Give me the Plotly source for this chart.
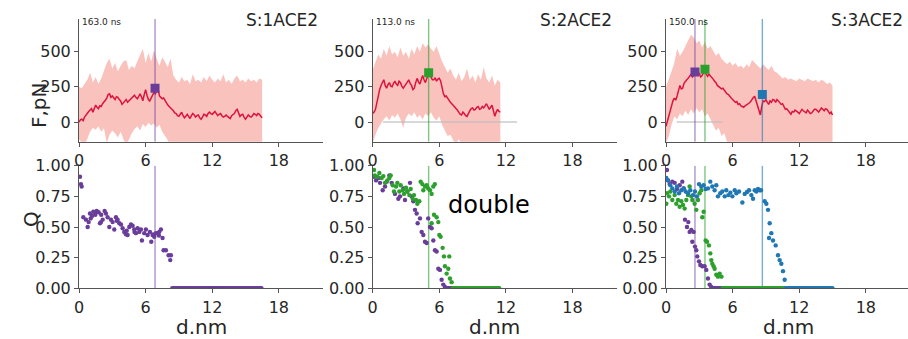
import numpy as np
import plotly.graph_objects as go

W, H = 908, 339
STEP = 0.25        # spacing (nm) of the spread-band samples
MEAN_STEP = 0.125  # spacing (nm) of the mean-force samples

# ---------------- force curves (pN), sampled from d = 0 ----------------
F1_MEAN = [0, 15, 20, 10, 35, 50, 60, 75, 85, 95,
           70, 100, 120, 105, 95, 115, 110, 130, 140, 155,
           170, 195, 200, 175, 185, 170, 160, 180, 175, 160,
           150, 125, 135, 150, 160, 140, 150, 165, 175, 185,
           190, 175, 165, 180, 200, 180, 150, 195, 230, 190,
           160, 150, 170, 195, 210, 200, 225, 235, 185, 175,
           165, 170, 150, 140, 120, 110, 100, 95, 80, 65,
           60, 45, 40, 55, 70, 45, 30, 40, 55, 40,
           25, 45, 60, 50, 35, 45, 50, 30, 20, 35,
           55, 50, 40, 60, 70, 60, 55, 65, 75, 60,
           45, 55, 60, 45, 35, 40, 50, 40, 30, 25,
           45, 55, 60, 80, 90, 65, 40, 50, 55, 35,
           20, 35, 50, 40, 35, 45, 60, 55, 45, 60,
           55, 40, 30]
F1_HI = [250, 240, 270, 300, 350, 280, 320, 270, 310, 360,
         420, 450, 380, 420, 360, 400, 430, 440, 370, 400,
         380, 430, 470, 520, 420, 490, 430, 510, 450, 400,
         460, 420, 390, 450, 330, 300, 280, 320, 290, 300,
         270, 340, 290, 300, 280, 320, 290, 330, 300, 280,
         310, 290, 340, 280, 300, 270, 310, 330, 290, 300,
         280, 310, 290, 300, 280, 310, 300]
F1_LO = [-120, -150, -170, -130, -70, -40, -55, -30, -70, -45,
         -150, -90, -60, -80, -110, -70, -120, -170, -130, -80,
         -50, -30, -60, -15, -35, -5, -25, -10, -40, -20,
         -70, -100, -130, -170, -180, -165, -175, -170, -180, -160,
         -170, -175, -165, -180, -170, -160, -175, -170, -180, -165,
         -170, -175, -160, -180, -170, -165, -175, -170, -180, -160,
         -170, -175, -165, -180, -170, -160, -175]

F2_MEAN = [60, 70, 90, 140, 180, 230, 260, 285, 300, 260,
           240, 265, 280, 255, 250, 275, 290, 270, 260, 290,
           280, 255, 240, 255, 270, 290, 300, 275, 260, 230,
           240, 280, 310, 285, 270, 300, 330, 300, 280, 310,
           340, 330, 320, 300, 300, 315, 290, 305, 310, 290,
           230, 200, 180, 185, 170, 150, 140, 130, 120, 110,
           100, 85, 70, 55, 50, 70, 60, 45, 40, 65,
           80, 95, 100, 85, 90, 105, 110, 90, 95, 110,
           100, 115, 130, 110, 90, 105, 120, 80, 40, 70,
           90, 75, 70]
F2_HI = [370, 420, 480, 450, 520, 470, 540, 480, 500, 460,
         530, 470, 500, 450, 520, 480, 540, 500, 560, 530,
         550, 520, 500, 540, 480, 430, 390, 350, 380, 330,
         300, 350, 290, 320, 380, 300, 330, 280, 340, 300,
         390, 310, 280, 330, 260, 300, 280]
F2_LO = [-150, -90, -40, -10, 20, 40, 10, 50, 30, 60,
         20, -40, 30, 60, 40, 70, 30, 50, 20, 60,
         40, 70, 30, 10, 40, -20, -60, -100, -90, -130,
         -160, -120, -160, -170, -150, -180, -170, -160, -175, -165,
         -170, -150, -180, -160, -170, -175, -165]

F3_MEAN = [-30, 10, 40, 90, 120, 150, 170, 155, 185, 230,
           260, 235, 240, 275, 290, 300, 310, 325, 340, 320,
           330, 350, 360, 340, 345, 320, 330, 350, 360, 340,
           325, 340, 330, 315, 305, 290, 280, 260, 250, 245,
           235, 240, 225, 210, 200, 195, 180, 170, 160, 150,
           140, 145, 125, 130, 115, 110, 105, 115, 120, 130,
           135, 145, 160, 175, 180, 150, 125, 90, 50, 110,
           150, 145, 160, 140, 125, 150, 140, 160, 155, 140,
           160, 150, 140, 125, 130, 110, 90, 95, 80, 65,
           55, 75, 70, 85, 80, 70, 60, 75, 90, 80,
           70, 65, 85, 70, 60, 65, 75, 90, 90, 80,
           70, 85, 100, 90, 80, 95, 90, 75, 60, 70,
           50]
F3_HI = [250, 300, 360, 420, 520, 470, 500, 540, 580, 620,
         600, 560, 580, 530, 570, 520, 540, 500, 470, 490,
         450, 430, 410, 430, 400, 420, 390, 400, 380, 410,
         390, 440, 420, 400, 380, 410, 390, 370, 400, 360,
         350, 330, 310, 320, 300, 310, 300, 290, 310, 300,
         290, 310, 300, 290, 300, 280, 300, 290, 270, 280, 260]
F3_LO = [-150, -100, -20, 40, 20, 60, 40, 80, 50, 90,
         60, 100, 70, 90, 40, 60, 10, -20, -60, -40,
         -100, -80, -140, -170, -180, -165, -175, -170, -180, -160,
         -170, -175, -165, -180, -170, -160, -175, -170, -180, -165,
         -170, -175, -160, -180, -170, -165, -175, -170, -180, -160,
         -170, -175, -165, -180, -170, -160, -175, -170, -180, -165, -170]

# light reference line at F = 0 (start, end in nm)
BASE2 = [0.93, 13.0]
BASE3 = [0.96, 5.1]

# ---------------- rupture events: position (nm) and force (pN) ----------------
EV1_D, EV1_F = [6.85], [240]
EV2_D, EV2_F = [5.04], [350]
EV3_D, EV3_F = [2.61, 3.51, 8.68], [355, 375, 195]

# ---------------- native contacts Q ----------------
Q1P_D = [0.09, 0.18, 0.24, 0.39, 0.63, 0.78, 0.87, 0.99, 1.05, 1.17, 1.29, 1.47, 1.59, 1.77,
         1.89, 1.98, 2.0, 2.13, 2.31, 2.43, 2.58, 2.73, 2.88, 3.03, 3.18, 3.33, 3.4, 3.48,
         3.63, 3.78, 3.93, 4.08, 4.23, 4.3, 4.38, 4.53, 4.68, 4.83, 4.98, 5.0, 5.13, 5.28,
         5.43, 5.58, 5.67, 5.88, 6.03, 6.18, 6.39, 6.51, 6.63, 6.7, 6.78, 6.93, 7.08, 7.2,
         7.23, 7.38, 7.53, 7.62, 7.83, 8.07, 8.22, 8.28]
Q1P_Q = [0.91, 0.85, 0.83, 0.58, 0.56, 0.50, 0.54, 0.61, 0.57, 0.59, 0.625, 0.60, 0.63, 0.62,
         0.53, 0.54, 0.60, 0.56, 0.63, 0.61, 0.58, 0.50, 0.56, 0.54, 0.48, 0.58, 0.55, 0.56,
         0.53, 0.52, 0.49, 0.46, 0.44, 0.47, 0.435, 0.50, 0.52, 0.51, 0.48, 0.46, 0.45, 0.49,
         0.46, 0.48, 0.39, 0.45, 0.48, 0.435, 0.46, 0.38, 0.435, 0.44, 0.42, 0.45, 0.45, 0.43,
         0.46, 0.48, 0.41, 0.31, 0.31, 0.27, 0.23, 0.27]
Q1P_ZERO = [8.4, 16.5]

Q2P_D = [0.12, 0.3, 0.51, 0.66, 0.9, 1.11, 1.26, 1.5, 1.71, 2.01, 2.31, 2.46, 2.76, 2.91,
         3.12, 3.36, 3.51, 3.66, 3.81, 3.96, 4.05, 4.26, 4.41, 4.56, 4.71, 4.86, 5.0, 5.16,
         5.31, 5.46, 5.61, 5.76, 5.91, 6.06, 6.21, 6.36, 6.51]
Q2P_Q = [0.91, 0.88, 0.90, 0.86, 0.80, 0.83, 0.87, 0.92, 0.86, 0.77, 0.73, 0.75, 0.815, 0.72,
         0.79, 0.86, 0.75, 0.71, 0.64, 0.61, 0.53, 0.57, 0.46, 0.435, 0.38, 0.37, 0.57, 0.50,
         0.49, 0.39, 0.31, 0.30, 0.16, 0.15, 0.07, 0.03, 0.01]
Q2P_ZERO = [6.6, 7.3]

Q2G_D = [0.12, 0.2, 0.42, 0.6, 0.81, 0.96, 1.11, 1.32, 1.5, 1.62, 1.8, 1.92, 2.1, 2.22,
         2.4, 2.52, 2.7, 2.82, 3.0, 3.12, 3.3, 3.42, 3.6, 3.72, 3.9, 4.02, 4.2, 4.32,
         4.47, 4.56, 4.71, 4.86, 5.0, 5.16, 5.31, 5.46, 5.6, 5.31, 5.52, 5.76, 5.91, 6.0,
         6.12, 6.3, 6.42, 6.51, 6.66, 6.81, 6.9, 6.96, 7.11]
Q2G_Q = [0.965, 0.92, 0.91, 0.94, 0.90, 0.915, 0.86, 0.88, 0.90, 0.92, 0.84, 0.79, 0.83, 0.86,
         0.79, 0.84, 0.80, 0.77, 0.82, 0.79, 0.76, 0.81, 0.73, 0.76, 0.72, 0.69, 0.71, 0.87,
         0.85, 0.80, 0.83, 0.84, 0.815, 0.80, 0.77, 0.83, 0.85, 0.53, 0.60, 0.58, 0.54, 0.435,
         0.42, 0.33, 0.26, 0.18, 0.12, 0.16, 0.26, 0.08, 0.05]
Q2G_ZERO = [7.2, 11.5]

Q3P_D = [0.09, 0.18, 0.33, 0.57, 0.78, 0.99, 1.23, 1.47, 1.59, 1.71, 1.89, 2.01, 2.13, 2.28,
         2.37, 2.49, 2.61, 2.73, 2.82, 2.97, 3.09, 3.27, 3.48, 3.63, 3.78, 3.93, 4.08]
Q3P_Q = [0.965, 0.88, 0.85, 0.87, 0.86, 0.81, 0.84, 0.87, 0.815, 0.56, 0.50, 0.54, 0.46, 0.475,
         0.38, 0.46, 0.34, 0.31, 0.26, 0.22, 0.19, 0.18, 0.18, 0.15, 0.08, 0.03, 0.01]
Q3P_ZERO = [4.2, 5.2]

Q3G_D = [0.03, 0.09, 0.27, 0.39, 0.57, 0.78, 0.93, 1.08, 1.23, 1.38, 1.53, 1.68, 1.83, 1.98,
         2.13, 2.28, 2.37, 2.58, 2.73, 2.88, 3.03, 3.18, 3.27, 3.39, 3.57, 3.69, 3.87, 3.99,
         4.08, 4.17, 4.29, 4.38, 4.53, 4.68, 4.83, 5.0]
Q3G_Q = [0.69, 0.775, 0.75, 0.79, 0.72, 0.76, 0.69, 0.72, 0.665, 0.71, 0.68, 0.65, 0.72, 0.76,
         0.83, 0.75, 0.72, 0.69, 0.64, 0.72, 0.775, 0.80, 0.58, 0.625, 0.39, 0.38, 0.35, 0.285,
         0.23, 0.20, 0.18, 0.16, 0.11, 0.095, 0.12, 0.095]
Q3G_ZERO = [5.1, 10.8]

Q3B_D = [0.03, 0.18, 0.39, 0.57, 0.78, 0.99, 1.17, 1.38, 1.59, 1.77, 1.98, 2.19, 2.43, 2.61,
         2.79, 2.97, 3.18, 3.39, 3.57, 3.78, 3.99, 4.17, 4.38, 4.53, 4.68, 4.89, 5.07, 5.29,
         5.43, 5.62, 5.8, 5.98, 6.19, 6.34, 6.58, 6.88, 7.09, 7.3, 7.48, 7.69, 7.84, 7.99,
         8.14, 8.29, 8.44, 8.56, 8.89, 9.04, 9.19, 9.34, 9.28, 9.49, 9.64, 9.88, 10.09, 10.24,
         10.39, 10.54, 10.69]
Q3B_Q = [0.90, 0.88, 0.84, 0.815, 0.79, 0.83, 0.775, 0.80, 0.815, 0.79, 0.775, 0.80, 0.76, 0.79,
         0.75, 0.85, 0.83, 0.84, 0.81, 0.815, 0.87, 0.83, 0.80, 0.84, 0.75, 0.775, 0.79, 0.75,
         0.80, 0.76, 0.78, 0.75, 0.80, 0.775, 0.79, 0.70, 0.77, 0.785, 0.80, 0.76, 0.73, 0.80,
         0.79, 0.81, 0.80, 0.80, 0.71, 0.69, 0.64, 0.53, 0.41, 0.45, 0.39, 0.35, 0.27, 0.23,
         0.20, 0.14, 0.07]
Q3B_ZERO = [10.8, 15.0]

TITLES = ["S:1ACE2", "S:2ACE2", "S:3ACE2"]
TIMES = ["163.0 ns", "113.0 ns", "150.0 ns"]
X_TICKS = [0, 6, 12, 18]
F_TICKS = [0, 250, 500]
Q_TICKS = [0.0, 0.25, 0.5, 0.75, 1.0]

# ---------------- styling ----------------
PURPLE, GREEN, BLUE = "#6a3d9a", "#2ca02c", "#1f77b4"
VLINE = {PURPLE: "rgba(106,61,154,0.55)", GREEN: "rgba(44,160,44,0.6)", BLUE: "rgba(31,119,180,0.6)"}
BAND = "rgba(246,150,142,0.58)"
MEAN = "#dc143c"
AXC = "#555555"
TXT = "#262626"
FONT = "DejaVu Sans"

PX_PER_NM = 11.1
PANEL_LEFT = [79, 372.7, 666]
PANEL_W = 244
TOP_PX = (19, 141.7)      # top/bottom of force panels (px from top)
BOT_PX = (165.7, 288.3)   # top/bottom of Q panels
F_RANGE = [-140, 732]
Q_RANGE = [0, 1]

fig = go.Figure()


def ax(n):
    return ("x" if n == 1 else f"x{n}"), ("y" if n == 1 else f"y{n}")


def grid(n, step):
    return [round(i * step, 4) for i in range(n)]


force = [(F1_MEAN, F1_HI, F1_LO, None), (F2_MEAN, F2_HI, F2_LO, BASE2), (F3_MEAN, F3_HI, F3_LO, BASE3)]
events = [(EV1_D, EV1_F, [PURPLE]), (EV2_D, EV2_F, [GREEN]), (EV3_D, EV3_F, [PURPLE, GREEN, BLUE])]
contacts = [
    [(Q1P_D, Q1P_Q, Q1P_ZERO, PURPLE)],
    [(Q2P_D, Q2P_Q, Q2P_ZERO, PURPLE), (Q2G_D, Q2G_Q, Q2G_ZERO, GREEN)],
    [(Q3P_D, Q3P_Q, Q3P_ZERO, PURPLE), (Q3G_D, Q3G_Q, Q3G_ZERO, GREEN), (Q3B_D, Q3B_Q, Q3B_ZERO, BLUE)],
]

for i in range(3):
    xt, yt = ax(i + 1)
    xb, yb = ax(i + 4)
    mean, hi, lo, base = force[i]
    db = grid(len(hi), STEP)
    dm = grid(len(mean), MEAN_STEP)
    # spread band
    fig.add_trace(go.Scatter(x=db + db[::-1], y=hi + lo[::-1], fill="toself", fillcolor=BAND,
                             line=dict(width=0), mode="lines", hoverinfo="skip",
                             xaxis=xt, yaxis=yt, showlegend=False))
    if base is not None:
        fig.add_trace(go.Scatter(x=base, y=[0, 0], mode="lines",
                                 line=dict(color="rgba(190,190,190,0.8)", width=1.6),
                                 xaxis=xt, yaxis=yt, showlegend=False))
    fig.add_trace(go.Scatter(x=dm, y=mean, mode="lines", line=dict(color=MEAN, width=1.5),
                             xaxis=xt, yaxis=yt, showlegend=False))
    # rupture markers with vertical guides
    ed, ef, cols = events[i]
    for dd, ff, c in zip(ed, ef, cols):
        fig.add_trace(go.Scatter(x=[dd, dd], y=F_RANGE, mode="lines", line=dict(color=VLINE[c], width=1.4),
                                 xaxis=xt, yaxis=yt, showlegend=False))
        fig.add_trace(go.Scatter(x=[dd, dd], y=Q_RANGE, mode="lines", line=dict(color=VLINE[c], width=1.4),
                                 xaxis=xb, yaxis=yb, showlegend=False))
    for dd, ff, c in zip(ed, ef, cols):
        fig.add_trace(go.Scatter(x=[dd], y=[ff], mode="markers",
                                 marker=dict(symbol="square", size=9, color=c),
                                 xaxis=xt, yaxis=yt, showlegend=False))
    # contact fractions
    for qd, qq, zero, c in contacts[i]:
        zd = list(np.round(np.arange(zero[0], zero[1] + 1e-9, 0.12), 3))
        fig.add_trace(go.Scatter(x=qd + zd, y=qq + [0.0] * len(zd), mode="markers",
                                 marker=dict(size=4.4, color=c, line=dict(width=0)),
                                 xaxis=xb, yaxis=yb, showlegend=False))

layout = dict(width=W, height=H, margin=dict(l=0, r=0, t=0, b=0, autoexpand=False),
              paper_bgcolor="white", plot_bgcolor="white",
              font=dict(family=FONT, color=TXT), showlegend=False)

axis_common = dict(showline=True, linecolor=AXC, linewidth=1, ticks="outside", ticklen=4,
                   tickcolor=AXC, tickwidth=1, showgrid=False, zeroline=False, automargin=False,
                   tickfont=dict(size=16, color=TXT, family=FONT))

annotations = []
for i in range(3):
    x0 = PANEL_LEFT[i]
    x1 = min(x0 + PANEL_W, W)
    dom = [x0 / W, x1 / W]
    xr = [0, (x1 - x0) / PX_PER_NM]
    for r in range(2):
        n = r * 3 + i + 1
        key = "" if n == 1 else str(n)
        top, bot = TOP_PX if r == 0 else BOT_PX
        layout["xaxis" + key] = dict(axis_common, domain=dom, range=xr, tickvals=X_TICKS,
                                     anchor="y" + key)
        ydict = dict(axis_common, domain=[1 - bot / H, 1 - top / H], anchor="x" + key)
        if r == 0:
            ydict.update(range=F_RANGE, tickvals=F_TICKS)
        else:
            ydict.update(range=Q_RANGE, tickvals=Q_TICKS, tickformat=".2f")
        layout["yaxis" + key] = ydict
    annotations.append(dict(text=TITLES[i], x=(x1 - 3) / W, y=1 - 20 / H, xref="paper", yref="paper",
                            xanchor="right", yanchor="middle", showarrow=False,
                            font=dict(size=17, color=TXT)))
    annotations.append(dict(text=TIMES[i], x=(x0 + 1) / W, y=1 - 22 / H, xref="paper", yref="paper",
                            xanchor="left", yanchor="middle", showarrow=False,
                            font=dict(size=9, color=TXT)))
    annotations.append(dict(text="d.nm", x=(x0 + 122) / W, y=1 - 327 / H, xref="paper", yref="paper",
                            xanchor="center", yanchor="middle", showarrow=False,
                            font=dict(size=20, color=TXT)))

annotations.append(dict(text="F,pN", x=25 / W, y=1 - 80 / H, xref="paper", yref="paper",
                        textangle=-90, showarrow=False, font=dict(size=20, color=TXT)))
annotations.append(dict(text="Q", x=17 / W, y=1 - 229 / H, xref="paper", yref="paper",
                        textangle=-90, showarrow=False, font=dict(size=20, color=TXT)))
annotations.append(dict(text="double", x=6.6, y=0.68, xref="x5", yref="y5",
                        xanchor="left", yanchor="middle", showarrow=False,
                        font=dict(size=24, color="black")))
layout["annotations"] = annotations

fig.update_layout(**layout)
fig.write_html("out.html")
